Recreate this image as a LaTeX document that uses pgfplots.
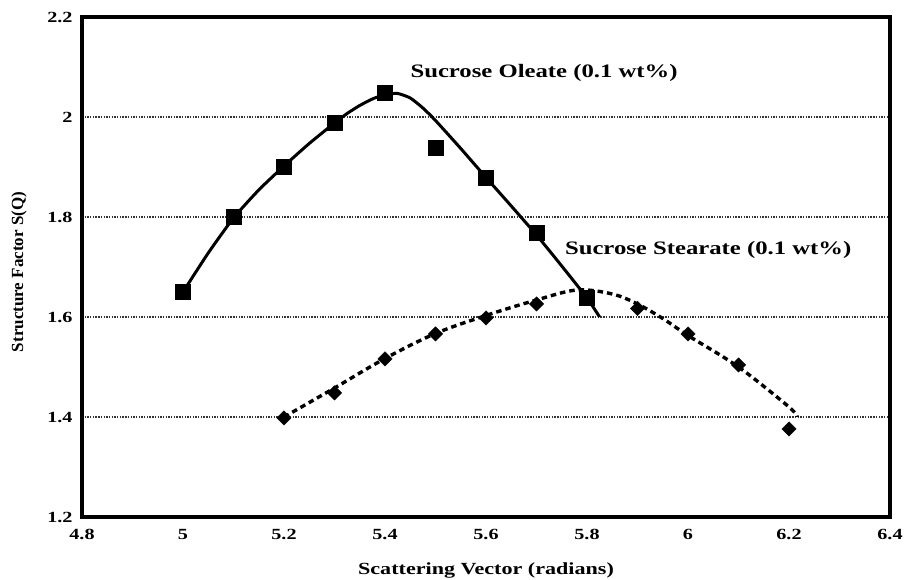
\documentclass[border=0pt]{standalone}
\usepackage{fontspec}
\setmainfont{Liberation Serif}[FakeStretch=1.3]
\newfontfamily\plainfont{Liberation Serif}
\usepackage{pgfplots}
\pgfplotsset{compat=1.18}
\begin{document}
\begin{tikzpicture}
\begin{axis}[
  scale only axis, width=808pt, height=500pt,
  xmin=4.8, xmax=6.4, ymin=1.2, ymax=2.2,
  xtick={4.8,5,5.2,5.4,5.6,5.8,6,6.2,6.4},
  ytick={1.2,1.4,1.6,1.8,2,2.2},
  /pgf/number format/assume math mode=true,
  /pgf/number format/fixed,
  tick label style={font=\bfseries\fontsize{15.5}{18}\selectfont},
  xticklabel style={yshift=-9pt},
  yticklabel style={xshift=-6pt},
  major tick length=0pt,
  axis line style={line width=4pt},
  ymajorgrids,
  grid style={line width=1.9pt, dash pattern=on 1.4pt off 1.3pt, color=black!80},
  xlabel={Scattering Vector (radians)},
  xlabel style={at={(axis description cs:0.5,-0.106)}, anchor=center, font=\bfseries\fontsize{17}{20}\selectfont},
  ylabel={\plainfont\bfseries Structure Factor S(Q)},
  ylabel style={at={(axis description cs:-0.078,0.49)}, anchor=center, rotate=0, font=\fontsize{17}{20}\selectfont},
  clip=false,
]
% Sucrose Oleate fitted curve
\addplot[black, line width=3pt, smooth, tension=0.35] coordinates {
(5.0,1.65) (5.05,1.728) (5.1,1.798) (5.15,1.854) (5.2,1.902) (5.25,1.947) (5.3,1.988)
(5.325,2.007) (5.35,2.023) (5.375,2.036) (5.4,2.045) (5.425,2.047) (5.45,2.038)
(5.475,2.018) (5.5,1.993) (5.55,1.937) (5.6,1.879)
(5.65,1.822) (5.7,1.764) (5.75,1.702) (5.8,1.638) (5.825,1.60)
};
% Sucrose Stearate fitted curve
\addplot[black, line width=3.4pt, dash pattern=on 5.5pt off 4pt, smooth, tension=0.55] coordinates {
(5.2,1.40) (5.3,1.458) (5.4,1.517) (5.5,1.567) (5.6,1.603) (5.7,1.634) (5.78,1.654)
(5.85,1.646) (5.9,1.626) (5.95,1.597) (6.0,1.563) (6.1,1.50) (6.2,1.42) (6.216,1.40)
};
% Oleate data
\addplot[only marks, mark=square*, mark size=7.5pt, mark options={fill=black, draw=black}] coordinates {
(5.0,1.65) (5.1,1.80) (5.2,1.90) (5.3,1.988) (5.4,2.048) (5.5,1.938) (5.6,1.878) (5.7,1.768) (5.8,1.638)
};
% Stearate data
\addplot[only marks, mark=square*, mark size=5.1pt, mark options={fill=black, draw=black, rotate=45}] coordinates {
(5.2,1.398) (5.3,1.448) (5.4,1.516) (5.5,1.566) (5.6,1.598) (5.7,1.626) (5.9,1.617) (6.0,1.566) (6.1,1.504) (6.2,1.376)
};
\node[font=\bfseries\fontsize{19}{22}\selectfont] at (axis cs:5.715,2.088) {Sucrose Oleate (0.1 wt\%)};
\node[font=\bfseries\fontsize{19}{22}\selectfont] at (axis cs:6.04,1.734) {Sucrose Stearate (0.1 wt\%)};
\end{axis}
\pgfresetboundingbox
\useasboundingbox (-82pt,-63pt) rectangle (826pt,517pt);
\end{tikzpicture}
\end{document}
